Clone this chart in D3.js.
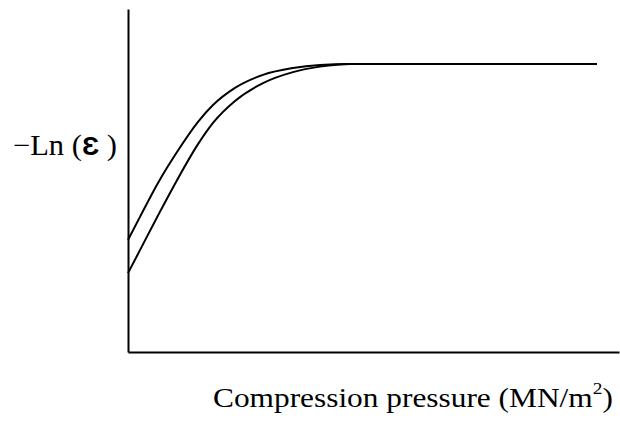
<!DOCTYPE html>
<html>
<head>
<meta charset="utf-8">
<script src="https://cdn.jsdelivr.net/npm/d3@7"></script>
<style>
  html, body { margin: 0; padding: 0; background: #fff; }
  svg { display: block; }
</style>
</head>
<body>
<svg id="chart" width="620" height="423"></svg>
<script>
// Compression pressure (arbitrary units) and -Ln(ε) for the two curves
const pressure = [0, 2.44, 6.11, 9.98, 14.26, 17.31, 21.79, 27.49, 33.6, 39.1, 45.2, 95.5];
const lnUpper  = [3.27, 3.94, 4.93, 5.83, 6.71, 7.20, 7.70, 8.08, 8.28, 8.37, 8.40, 8.40];
const lnLower  = [2.30, 2.97, 3.98, 5.01, 6.06, 6.68, 7.32, 7.84, 8.16, 8.32, 8.40, 8.40];

const xTitle = "Compression pressure (MN/m";
const xTitleSup = "2";
const yTitlePre = "\u2212Ln (";
const yTitleSym = "\u0190";
const yTitlePost = " )";

const svg = d3.select("#chart");
const margin = { left: 128, right: 1, top: 9, bottom: 71 };
const W = 620, H = 423;

const x = d3.scaleLinear().domain([0, 100]).range([margin.left, W - margin.right]);
const y = d3.scaleLinear().domain([0, 10]).range([H - margin.bottom, margin.top]);

// Axes: plain lines, no ticks
const xAxis = svg.append("g")
  .attr("transform", `translate(0,${H - margin.bottom})`)
  .call(d3.axisBottom(x).tickValues([]).tickSizeOuter(0));
const yAxis = svg.append("g")
  .attr("transform", `translate(${margin.left},0)`)
  .call(d3.axisLeft(y).tickValues([]).tickSizeOuter(0));
[xAxis, yAxis].forEach(a => a.select(".domain").attr("stroke", "#000").attr("stroke-width", 2));

const line = d3.line()
  .x(d => x(d[0]))
  .y(d => y(d[1]))
  .curve(d3.curveMonotoneX);

[lnUpper, lnLower].forEach(vals => {
  svg.append("path")
    .datum(pressure.map((p, i) => [p, vals[i]]))
    .attr("d", line)
    .attr("fill", "none")
    .attr("stroke", "#000")
    .attr("stroke-width", 2);
});

// Stretch a title horizontally so it spans the given width
function fitWidth(sel, left, baseline, width) {
  const w = sel.node().getBBox().width;
  sel.attr("transform", `translate(${left},${baseline}) scale(${width / w},1)`);
}

// Y axis title
const yt = svg.append("text")
  .attr("font-family", "'Liberation Serif', 'Times New Roman', serif")
  .attr("font-size", 29)
  .attr("fill", "#000");
yt.append("tspan").text(yTitlePre);
yt.append("tspan")
  .attr("font-family", "'Liberation Sans', Arial, sans-serif")
  .attr("font-weight", "bold")
  .attr("font-size", 26)
  .text(yTitleSym);
yt.append("tspan").text(yTitlePost);
fitWidth(yt, 13, 155, 104);

// X axis title with superscript
const xt = svg.append("text")
  .attr("font-family", "'Liberation Serif', 'Times New Roman', serif")
  .attr("font-size", 27.5)
  .attr("fill", "#000");
xt.append("tspan").text(xTitle);
xt.append("tspan").attr("font-size", 17).attr("dy", -13).text(xTitleSup);
xt.append("tspan").attr("dy", 13).text(")");
fitWidth(xt, 213, 407, 400);
</script>
</body>
</html>
